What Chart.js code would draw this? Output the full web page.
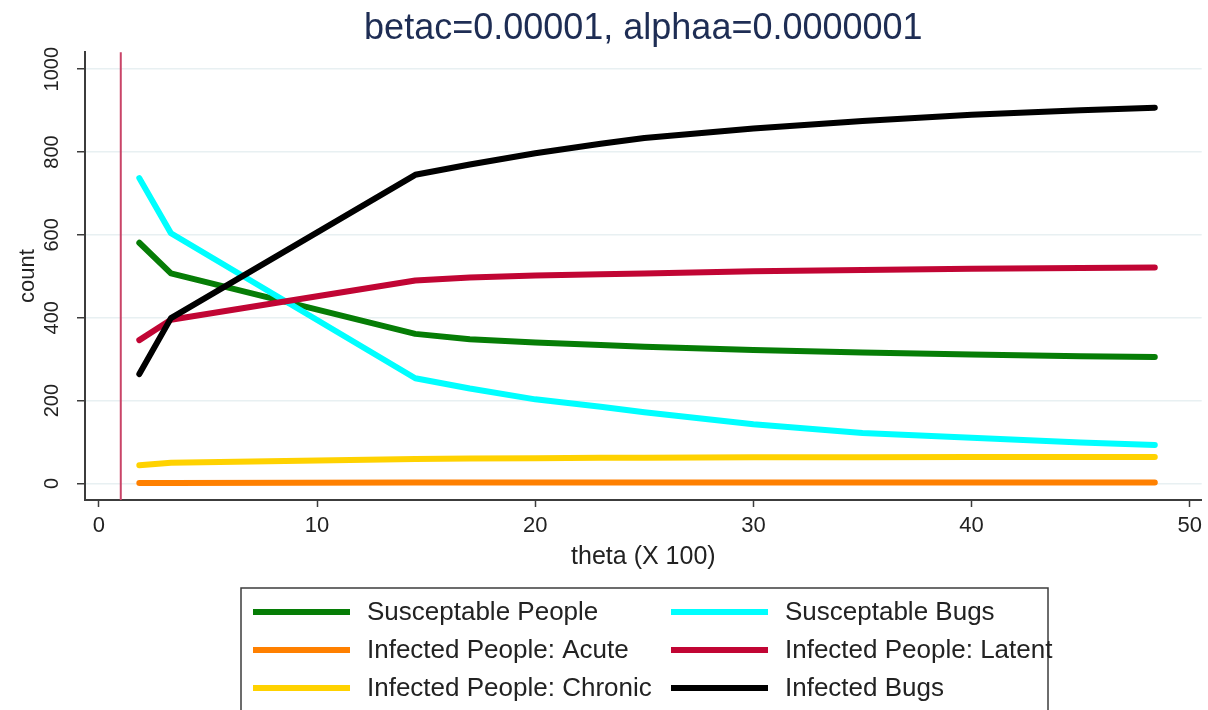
<!DOCTYPE html>
<html>
<head>
<meta charset="utf-8">
<script src="https://cdn.jsdelivr.net/npm/chart.js@4.4.1/dist/chart.umd.min.js"></script>
<style>
  html, body { margin: 0; padding: 0; background: #ffffff; }
  #wrap { width: 1208px; height: 710px; }
</style>
</head>
<body>
<div id="wrap"><canvas id="c" width="1208" height="710"></canvas></div>
<script>
// theta (in hundreds) at which the model was solved
const thetaValues = [1.85, 3.3, 14.5, 17, 20, 23, 25, 30, 35, 40, 45, 48.4];

// equilibrium counts for each compartment
const susceptablePeople = [581, 507, 361, 348, 340, 334, 330, 322, 316, 311, 307, 305];
const susceptableBugs   = [737, 604, 254, 229, 203, 185, 172, 143, 122, 110, 99, 93];
const infectedAcute     = [1, 1, 2, 2, 2, 2, 2, 2, 2, 2, 2, 2];
const infectedLatent    = [346, 395, 490, 497, 502, 505, 507, 512, 515, 518, 520, 521];
const infectedChronic   = [44, 50, 59, 60, 61, 62, 62, 63, 63, 64, 64, 64];
const infectedBugs      = [264, 399, 745, 770, 797, 820, 834, 857, 875, 890, 901, 907];

const seriesNames = [
  'Susceptable People', 'Susceptable Bugs',
  'Infected People: Acute', 'Infected People: Latent',
  'Infected People: Chronic', 'Infected Bugs'
];
const seriesValues = [susceptablePeople, susceptableBugs, infectedAcute, infectedLatent, infectedChronic, infectedBugs];
const seriesColors = ['#067d06', '#00ffff', '#ff8000', '#c10534', '#ffd200', '#000000'];

const xTickValues = [0, 10, 20, 30, 40, 50];
const yTickValues = [0, 200, 400, 600, 800, 1000];
const referenceTheta = 1;

const FONT = '"Liberation Sans", Arial, Helvetica, sans-serif';

const datasets = seriesValues.map((vals, i) => ({
  label: seriesNames[i],
  data: vals.map((v, k) => ({ x: thetaValues[k], y: v })),
  borderColor: seriesColors[i],
  backgroundColor: seriesColors[i],
  borderWidth: 6,
  borderCapStyle: 'round',
  borderJoinStyle: 'round',
  pointRadius: 0,
  tension: 0,
  fill: false,
  order: seriesValues.length - 1 - i
}));

// thin vertical marker at the reference theta
const markerLine = {
  id: 'markerLine',
  beforeDatasetsDraw(chart) {
    const { ctx, chartArea, scales } = chart;
    const x = scales.x.getPixelForValue(referenceTheta);
    ctx.save();
    ctx.strokeStyle = '#c94468';
    ctx.lineWidth = 2;
    ctx.beginPath();
    ctx.moveTo(x, chartArea.top);
    ctx.lineTo(x, chartArea.bottom);
    ctx.stroke();
    ctx.restore();
  }
};

// boxed two-column legend under the plot
const boxLegend = {
  id: 'boxLegend',
  afterDraw(chart) {
    const ctx = chart.ctx;
    const boxLeft = 241, boxTop = 588, boxWidth = 807, boxHeight = 140;
    const colLine = [253, 671];
    const lineLen = 97;
    const colText = [367, 785];
    const rowY = [612, 650, 688];
    ctx.save();
    ctx.strokeStyle = '#3c3c3c';
    ctx.lineWidth = 1.5;
    ctx.strokeRect(boxLeft, boxTop, boxWidth, boxHeight);
    ctx.font = '26px ' + FONT;
    ctx.textBaseline = 'middle';
    ctx.textAlign = 'left';
    seriesNames.forEach((name, i) => {
      const col = i % 2, row = Math.floor(i / 2);
      const y = rowY[row];
      ctx.strokeStyle = seriesColors[i];
      ctx.lineWidth = 6;
      ctx.lineCap = 'butt';
      ctx.beginPath();
      ctx.moveTo(colLine[col], y);
      ctx.lineTo(colLine[col] + lineLen, y);
      ctx.stroke();
      ctx.fillStyle = '#222222';
      ctx.fillText(name, colText[col], y + 1);
    });
    ctx.restore();
  }
};

new Chart(document.getElementById('c'), {
  type: 'line',
  data: { datasets },
  plugins: [markerLine, boxLegend],
  options: {
    responsive: false,
    devicePixelRatio: 1,
    animation: false,
    layout: { padding: { left: 0, right: 3, top: 0, bottom: 130 } },
    plugins: {
      legend: { display: false },
      tooltip: { enabled: false },
      title: {
        display: true,
        fullSize: false,
        text: 'betac=0.00001, alphaa=0.0000001',
        color: '#1e2d54',
        font: { family: FONT, size: 36, weight: 'normal' },
        padding: { top: 7, bottom: 2 }
      }
    },
    scales: {
      x: {
        type: 'linear',
        min: -0.64,
        max: 50.55,
        afterBuildTicks(scale) { scale.ticks = xTickValues.map(v => ({ value: v })); },
        afterFit(scale) { scale.height = 80; },
        border: { display: true, color: '#3c3c3c', width: 2 },
        grid: { drawOnChartArea: false, drawTicks: true, tickLength: 7, tickColor: '#3c3c3c', tickWidth: 1.5 },
        ticks: {
          color: '#222222',
          font: { family: FONT, size: 22 },
          padding: 6,
          maxRotation: 0,
          minRotation: 0,
          callback: (v) => String(v)
        },
        title: {
          display: true,
          text: 'theta (X 100)',
          color: '#222222',
          font: { family: FONT, size: 25 },
          padding: { top: 0, bottom: 8 }
        }
      },
      y: {
        type: 'linear',
        min: -40,
        max: 1041,
        afterBuildTicks(scale) { scale.ticks = yTickValues.map(v => ({ value: v })); },
        afterFit(scale) { scale.width = 85; },
        border: { display: true, color: '#3c3c3c', width: 2 },
        grid: { color: '#e8f0f2', lineWidth: 1.5, tickLength: 8, tickColor: '#3c3c3c', tickWidth: 1.5 },
        ticks: {
          color: '#222222',
          font: { family: FONT, size: 20 },
          padding: 2,
          minRotation: 90,
          maxRotation: 90,
          crossAlign: 'center',
          callback: (v) => String(v)
        },
        title: {
          display: true,
          text: 'count',
          color: '#222222',
          font: { family: FONT, size: 22 },
          padding: { top: 15, bottom: 0 }
        }
      }
    }
  }
});
</script>
</body>
</html>
